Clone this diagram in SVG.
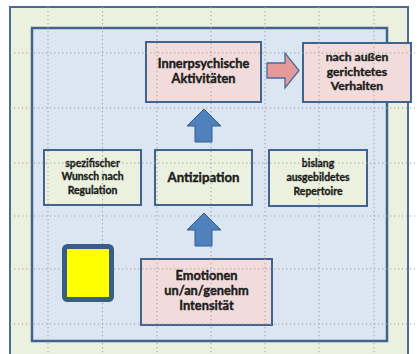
<svg xmlns="http://www.w3.org/2000/svg" xmlns:xlink="http://www.w3.org/1999/xlink" width="417" height="354" viewBox="0 0 417 354">
  <style>
    .box { stroke: #41648f; stroke-width: 2; }
    .pink { fill: #f2dcdb; }
    .green { fill: #ebf1de; }
    .lbl { font-family: Lato, "Open Sans", "Liberation Sans", sans-serif; font-weight: bold; fill: #1c1c1c; stroke: #1c1c1c; stroke-width: 0.4; text-anchor: middle; }
    .big { font-size: 12.8px; }
    .mid { font-size: 12.2px; }
    .small { font-size: 10.4px; stroke-width: 0.35; }
    .grid { stroke: #a0a0a0; stroke-width: 1; stroke-dasharray: 1.3 2.7; fill: none; }
    .up { fill: #4f81bd; stroke: #385d8a; stroke-width: 1; }
    .right { fill: #e39a98; stroke: #4a6b96; stroke-width: 1.3; }
  </style>
  <defs>
    <path id="upArrow" d="M0,0 L17,17 L8,17 L8,33 L-9,33 L-9,17 L-17,17 Z"/>
  </defs>

  <rect width="417" height="354" fill="#ffffff"/>

  <!-- outer frame and inner panel -->
  <g id="frame">
    <rect x="10" y="7" width="398" height="352" fill="#ebf1de" stroke="#4a6b96" stroke-width="2"/>
    <rect x="32" y="28" width="355" height="313" fill="#dce6f2" stroke="#41648f" stroke-width="2.5"/>
  </g>

  <g id="innerpsychisch">
    <rect class="box pink" x="146" y="42" width="115" height="60"/>
    <text class="lbl big" x="203.5" y="68">Innerpsychische</text>
    <text class="lbl big" x="203.5" y="83">Aktivitäten</text>
  </g>

  <g id="verhalten">
    <rect class="box pink" x="303" y="43" width="108" height="59"/>
    <text class="lbl mid" x="357" y="61">nach außen</text>
    <text class="lbl mid" x="357" y="75.5">gerichtetes</text>
    <text class="lbl mid" x="357" y="90">Verhalten</text>
  </g>

  <g id="wunsch">
    <rect class="box green" x="44" y="150" width="97" height="55"/>
    <text class="lbl small" x="92.5" y="167">spezifischer</text>
    <text class="lbl small" x="92.5" y="180">Wunsch nach</text>
    <text class="lbl small" x="92.5" y="194">Regulation</text>
  </g>

  <g id="antizipation">
    <rect class="box green" x="155" y="150" width="97" height="55"/>
    <text class="lbl" font-size="13.2" x="203.5" y="182">Antizipation</text>
  </g>

  <g id="repertoire">
    <rect class="box green" x="269" y="150" width="98" height="56"/>
    <text class="lbl small" x="318" y="167">bislang</text>
    <text class="lbl small" x="318" y="181">ausgebildetes</text>
    <text class="lbl small" x="318" y="195">Repertoire</text>
  </g>

  <g id="emotionen">
    <rect class="box pink" x="141" y="259" width="131" height="66"/>
    <text class="lbl big" x="206.5" y="280">Emotionen</text>
    <text class="lbl big" x="206.5" y="295">un/an/genehm</text>
    <text class="lbl big" x="206.5" y="310">Intensität</text>
  </g>

  <!-- dotted layout grid -->
  <g id="grid" class="grid">
    <path d="M48,7V354 M102.5,7V354 M157,7V354 M211,7V354 M265,7V354 M319,7V354 M374,7V354"/>
    <path d="M10,53H415 M10,108H415 M10,163H415 M10,216H415 M10,269H415 M10,324H415"/>
  </g>

  <g id="connectors">
    <use xlink:href="#upArrow" class="up" x="204" y="109"/>
    <use xlink:href="#upArrow" class="up" x="204" y="213"/>
    <path class="right" d="M267,63 L285,63 L285,53 L299,70.5 L285,88 L285,78 L267,78 Z"/>
  </g>

  <g id="marker-square">
    <rect x="64.5" y="246.5" width="47" height="53" rx="3" fill="#ffff00" stroke="#3a5c88" stroke-width="5"/>
  </g>
</svg>
